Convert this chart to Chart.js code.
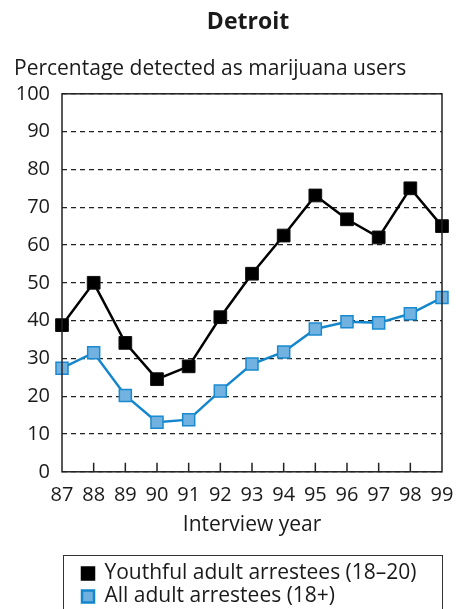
<!DOCTYPE html>
<html>
  <head>
    <title>Detroit</title>
    <meta http-equiv="Content-Type" content="text/html;charset=utf-8" />
    <script src="https://cdn.jsdelivr.net/npm/chart.js@4.4.1/dist/chart.umd.min.js"></script>
    <style>
      html, body { margin: 0; padding: 0; background: #fff; }
      #wrap { width: 458px; height: 609px; }
    </style>
    <script>
      // data
      var years = ["87", "88", "89", "90", "91", "92", "93", "94", "95", "96", "97", "98", "99"];
      var youthful = [38.8, 50, 34.1, 24.5, 27.9, 40.9, 52.4, 62.5, 73.1, 66.8, 62, 75, 65];
      var allAdults = [27.4, 31.5, 20.2, 13.1, 13.8, 21.4, 28.5, 31.7, 37.8, 39.7, 39.4, 41.8, 46.1];
      var seriesNames = ["Youthful adult arrestees (18\u201320)", "All adult arrestees (18+)"];

      var txt = "#1a1a1a";
      var fontFam = "'Open Sans', 'Noto Sans', sans-serif";
    </script>
  </head>
  <body>
    <div id="wrap"><canvas id="c" width="458" height="609"></canvas></div>
    <script>
      // frame round the plot, little ticks pointing up from the x axis, box round the legend
      var framePlugin = {
        id: "frame",
        afterLayout: function (chart) {
          // legend and title sit further right, like the original
          chart.legend.left += 66;
          chart.titleBlock.left += 20;
          chart.titleBlock.right += 20;
        },
        afterDatasetsDraw: function (chart) {
          var ctx = chart.ctx;
          var a = chart.chartArea;
          var xs = chart.scales.x;
          ctx.save();
          ctx.strokeStyle = "#222";
          ctx.lineWidth = 1.5;
          ctx.beginPath();
          for (var i = 1; i < years.length - 1; i++) {
            var px = xs.getPixelForValue(i);
            ctx.moveTo(px, a.bottom);
            ctx.lineTo(px, a.bottom - 9);
          }
          ctx.stroke();
          ctx.strokeRect(a.left, a.top, a.right - a.left, a.bottom - a.top);
          ctx.restore();
        },
        afterDraw: function (chart) {
          var ctx = chart.ctx;
          var a = chart.chartArea;
          var lg = chart.legend;
          ctx.save();
          ctx.strokeStyle = "#333";
          ctx.lineWidth = 1;
          ctx.strokeRect(a.left + 1.5, Math.round(lg.top) - 5.5, a.right - a.left - 1, 80);
          ctx.restore();
        }
      };

      var ctx = document.getElementById("c").getContext("2d");
      var chart = new Chart(ctx, {
        type: "line",
        data: {
          labels: years,
          datasets: [
            {
              label: seriesNames[0],
              data: youthful,
              borderColor: "#000",
              backgroundColor: "#000",
              borderWidth: 2.5,
              pointStyle: "rect",
              pointRadius: 9,
              pointBorderWidth: 1,
              pointBorderColor: "#111",
              pointBackgroundColor: "#000",
              tension: 0
            },
            {
              label: seriesNames[1],
              data: allAdults,
              borderColor: "#1487cc",
              backgroundColor: "#6fb0df",
              borderWidth: 2.5,
              pointStyle: "rect",
              pointRadius: 8.5,
              pointBorderWidth: 1.5,
              pointBorderColor: "#1a8ad0",
              pointBackgroundColor: "#72b2e0",
              tension: 0
            }
          ]
        },
        options: {
          responsive: false,
          animation: false,
          layout: { padding: { left: 14, right: 16, top: 0, bottom: -8 } },
          plugins: {
            title: {
              display: true,
              text: "Detroit",
              color: txt,
              font: { family: fontFam, size: 23, weight: "bold" },
              padding: { top: 9, bottom: 20 }
            },
            subtitle: {
              display: true,
              text: "Percentage detected as marijuana users",
              align: "start",
              color: txt,
              font: { family: fontFam, size: 21 },
              padding: { top: 0, bottom: 12 }
            },
            legend: {
              position: "bottom",
              align: "start",
              labels: {
                color: txt,
                font: { family: fontFam, size: 21 },
                boxWidth: 12,
                boxHeight: 12,
                padding: 2
              }
            },
            tooltip: { enabled: false }
          },
          scales: {
            x: {
              offset: false,
              grid: { display: false },
              border: { display: false },
              ticks: {
                color: txt,
                font: { family: fontFam, size: 20 },
                padding: 3,
                maxRotation: 0,
                autoSkip: false
              },
              title: {
                display: true,
                text: "Interview year",
                color: txt,
                font: { family: fontFam, size: 21 },
                padding: { top: 3, bottom: 23 }
              }
            },
            y: {
              min: 0,
              max: 100,
              afterFit: function (s) { s.width = 48; },
              grid: {
                color: "#222",
                lineWidth: 1.3,
                drawTicks: false
              },
              border: { display: false, dash: [5, 4] },
              ticks: {
                stepSize: 10,
                color: txt,
                font: { family: fontFam, size: 20 },
                padding: 12
              }
            }
          }
        },
        plugins: [framePlugin]
      });
    </script>
  </body>
</html>
